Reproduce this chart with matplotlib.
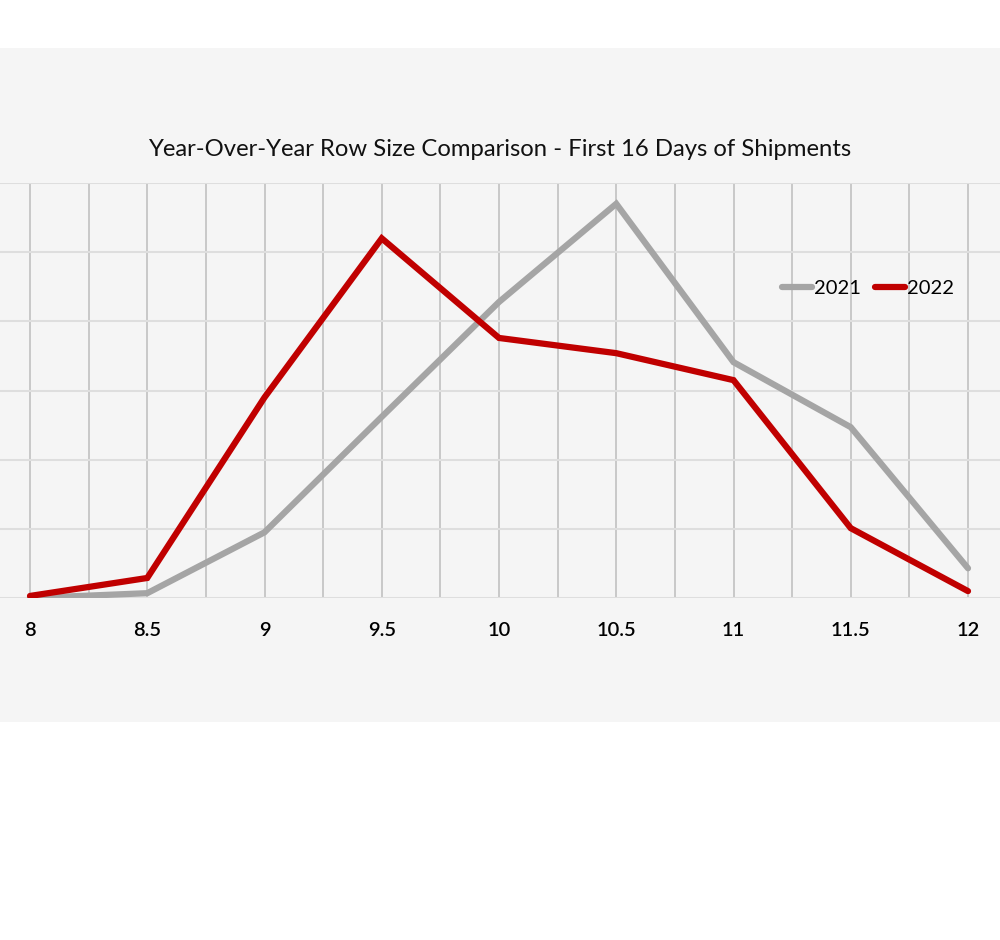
import matplotlib.pyplot as plt
from matplotlib.patches import Rectangle
import numpy as np

plt.rcParams['font.family'] = ['Lato', 'DejaVu Sans']

row_size = [8, 8.5, 9, 9.5, 10, 10.5, 11, 11.5, 12]
y2021 = [0.0, 0.07, 0.95, 2.62, 4.28, 5.70, 3.41, 2.47, 0.43]
y2022 = [0.03, 0.29, 2.90, 5.20, 3.76, 3.54, 3.15, 1.01, 0.10]
tick_labels = ['8', '8.5', '9', '9.5', '10', '10.5', '11', '11.5', '12']

fig = plt.figure(figsize=(10, 9.4), dpi=100)
fig.patch.set_facecolor('white')
# grey chart panel behind everything
fig.patches.append(Rectangle((0, 0.2319), 1, 0.717, transform=fig.transFigure,
                             facecolor='#f5f5f5', edgecolor='none', zorder=-5))

ax = fig.add_axes([0, 0.3638, 1, 0.4415])
ax.set_facecolor('#f5f5f5')

ax.plot(row_size, y2021, color='#a5a5a5', lw=4.5, label='2021', zorder=3,
        solid_capstyle='round', solid_joinstyle='miter')
ax.plot(row_size, y2022, color='#c00000', lw=4.5, label='2022', zorder=4,
        solid_capstyle='round', solid_joinstyle='miter')

ax.set_xlim(8 - 30 / 234.5, 12 + 32 / 234.5)
ax.set_ylim(0, 6)
ax.set_xticks(row_size)
ax.set_xticklabels(tick_labels, fontweight='semibold')
ax.set_xticks(np.arange(8.25, 12, 0.5), minor=True)
ax.set_yticks(range(7))
ax.tick_params(axis='x', which='both', length=0, pad=17, labelsize=14.5, labelcolor='black')
ax.tick_params(axis='y', length=0, labelleft=False)
ax.grid(axis='x', which='both', color='#c8c8c8', lw=1.4, zorder=1)
ax.grid(axis='y', color='#dedede', lw=1.5, zorder=1)
for s in ax.spines.values():
    s.set_visible(False)

fig.text(0.5, 1 - 150 / 940, 'Year-Over-Year Row Size Comparison - First 16 Days of Shipments',
         ha='center', va='center', fontsize=17.2, color='#111111')

ax.legend(loc='center', bbox_to_anchor=(868 / 1000, (598 - 288) / 415), ncol=2,
          frameon=False, fontsize=14.5, handlelength=1.5, handletextpad=0.1,
          columnspacing=0.7)

fig.savefig('out.png', dpi=100, facecolor='white')
